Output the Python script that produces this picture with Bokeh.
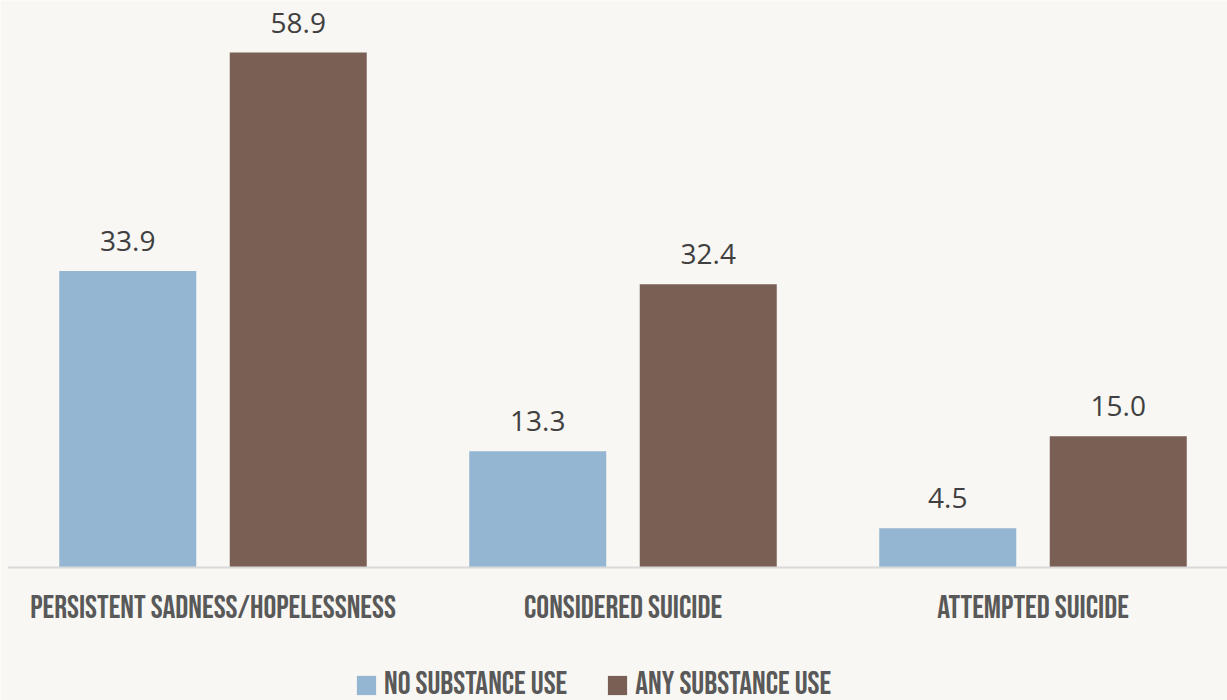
from bokeh.plotting import figure
from bokeh.models import ColumnDataSource, Legend, LegendItem, Range1d
from bokeh.core.properties import value
from bokeh.embed import file_html
from bokeh.resources import INLINE

categories = ["PERSISTENT SADNESS/HOPELESSNESS", "CONSIDERED SUICIDE", "ATTEMPTED SUICIDE"]
series_names = ["NO SUBSTANCE USE", "ANY SUBSTANCE USE"]
no_use = [33.9, 13.3, 4.5]
any_use = [58.9, 32.4, 15.0]

W, H = 1227, 700
PX_X = 410.0          # pixels per category
X0 = 212.5            # pixel of first category centre
BASE = 567.0          # pixel row of the baseline
PX_Y = 515.0 / 58.9   # pixels per unit

BG = "#f8f7f3"
BLUE = "#94b6d2"
BROWN = "#7a5f54"
COND = "Bebas Neue"

p = figure(width=W, height=H, output_backend="svg", toolbar_location=None,
           x_range=Range1d(-X0 / PX_X, (W - X0) / PX_X),
           y_range=Range1d(-(H - BASE) / PX_Y, BASE / PX_Y),
           min_border=0, min_border_left=0, min_border_right=0,
           min_border_top=0, min_border_bottom=0)
p.axis.visible = False
p.grid.visible = False
p.outline_line_color = None
p.background_fill_color = BG
p.border_fill_color = BG

xs = list(range(len(categories)))
off = 85.25 / PX_X
bw = 137.0 / PX_X

src = ColumnDataSource(dict(
    x=xs, cat=categories,
    x_no=[x - off for x in xs], x_any=[x + off for x in xs],
    no=no_use, any=any_use,
    no_lab=[f"{v:.1f}" for v in no_use], any_lab=[f"{v:.1f}" for v in any_use],
    no_y=[v + 30 / PX_Y for v in no_use], any_y=[v + 30 / PX_Y for v in any_use],
    cat_y=[-(608 - BASE) / PX_Y] * len(categories),
))

r_no = p.vbar(x="x_no", top="no", bottom=0, width=bw, source=src,
              fill_color=BLUE, line_color=None)
r_any = p.vbar(x="x_any", top="any", bottom=0, width=bw, source=src,
               fill_color=BROWN, line_color=None)

# baseline
p.segment(x0=[-0.5], y0=[0], x1=[len(categories) - 0.5], y1=[0],
          line_color="#d9d9d9", line_width=2)

for xcol, ycol, lcol in (("x_no", "no_y", "no_lab"), ("x_any", "any_y", "any_lab")):
    p.text(x=xcol, y=ycol, text=lcol, source=src, text_align="center",
           text_baseline="middle", text_font=value("Open Sans"),
           text_font_size="28px", text_color="#404040")

p.text(x="x", y="cat_y", text="cat", source=src, text_align="center",
       text_baseline="middle", text_font=value(COND),
       text_font_size="32px", text_color="#595959")

legend = Legend(items=[LegendItem(label=series_names[0], renderers=[r_no]),
                       LegendItem(label=series_names[1], renderers=[r_any])],
                orientation="horizontal", location=(354, -4),
                glyph_width=24, glyph_height=24, label_standoff=6, spacing=38,
                padding=0, margin=0, border_line_color=None,
                background_fill_alpha=0,
                label_text_font=COND,
                label_text_font_size="32px", label_text_color="#595959",
                label_height=24)
p.add_layout(legend, "center")

open("out.html", "w").write(file_html(p, INLINE))
